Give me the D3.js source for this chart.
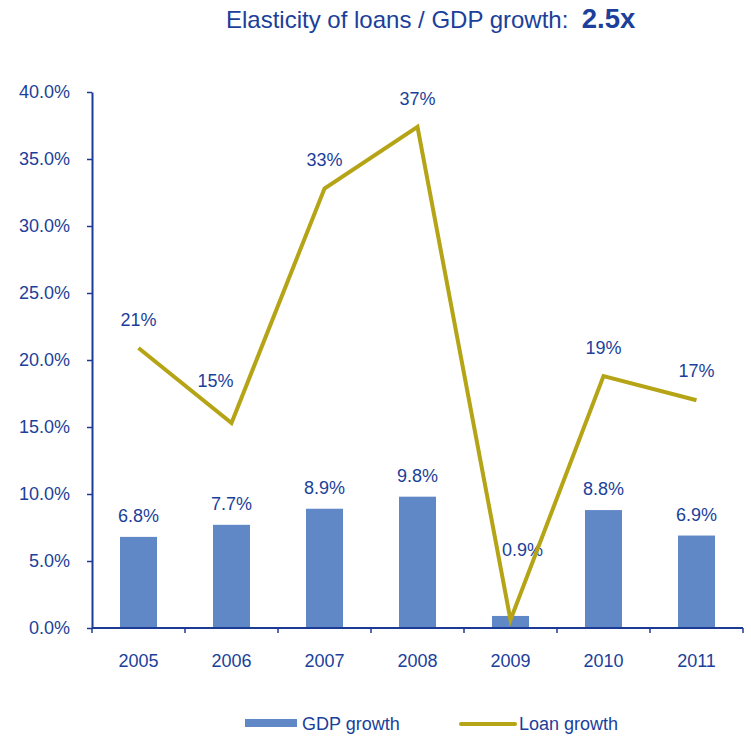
<!DOCTYPE html>
<html>
<head>
<meta charset="utf-8">
<script src="https://cdn.jsdelivr.net/npm/d3@7/dist/d3.min.js"></script>
<style>
  body { margin: 0; background: #fff; }
  svg { font-family: "Liberation Sans", Arial, sans-serif; }
</style>
</head>
<body>
<svg id="chart" width="751" height="737"></svg>
<script>
// Chart data
const years = ["2005", "2006", "2007", "2008", "2009", "2010", "2011"];
const gdpGrowth = [6.8, 7.7, 8.9, 9.8, 0.9, 8.8, 6.9];
const loanGrowth = [20.9, 15.3, 32.8, 37.4, 0.6, 18.8, 17.0];
const loanLabels = ["21%", "15%", "33%", "37%", null, "19%", "17%"];
const yTicks = [0, 5, 10, 15, 20, 25, 30, 35, 40];

const textBlue = "#1b3f9a";
const axisBlue = "#1c3b95";
const barColor = "#6088c6";
const lineColor = "#b5a416";
const fontSize = 18;

const svg = d3.select("#chart");
const plotLeft = 92, plotRight = 743, plotTop = 92, plotBottom = 628;

const xBand = d3.scaleBand().domain(years).range([plotLeft, plotRight]);
const y = d3.scaleLinear().domain([0, 40]).range([plotBottom, plotTop]);
const cx = d => xBand(d) + xBand.bandwidth() / 2;

// Title
const title = svg.append("text")
  .attr("x", 226).attr("y", 28)
  .attr("fill", textBlue);
title.append("tspan").attr("font-size", 24).text("Elasticity of loans / GDP growth:\u00a0\u00a0");
title.append("tspan").attr("font-size", 27.5).attr("font-weight", "bold").text("2.5x");

// Y axis
const yAxis = svg.append("g")
  .attr("transform", `translate(${plotLeft},0)`)
  .call(d3.axisLeft(y).tickValues(yTicks).tickFormat(d => d.toFixed(1) + "%").tickSize(5).tickSizeOuter(0));
yAxis.select(".domain").attr("stroke", axisBlue).attr("stroke-width", 2);
yAxis.selectAll(".tick line").attr("stroke", axisBlue).attr("stroke-width", 1.5);
yAxis.selectAll(".tick text").attr("fill", textBlue).attr("font-size", fontSize)
  .attr("x", -22).attr("font-family", "Liberation Sans, Arial, sans-serif");

// Bars
svg.selectAll("rect.bar").data(years).join("rect")
  .attr("class", "bar")
  .attr("x", d => cx(d) - 18.5)
  .attr("width", 37)
  .attr("y", (d, i) => y(gdpGrowth[i]))
  .attr("height", (d, i) => y(0) - y(gdpGrowth[i]))
  .attr("fill", barColor);

// X axis with boundary ticks between categories
const xAxisG = svg.append("g").attr("transform", `translate(0,${plotBottom})`);
xAxisG.append("line").attr("x1", plotLeft).attr("x2", plotRight).attr("stroke", axisBlue).attr("stroke-width", 2);
const boundaries = years.map(d => xBand(d)).concat([plotRight]);
xAxisG.selectAll("line.tk").data(boundaries).join("line")
  .attr("class", "tk")
  .attr("x1", d => d).attr("x2", d => d)
  .attr("y1", 0).attr("y2", 5)
  .attr("stroke", axisBlue).attr("stroke-width", 1.5);
xAxisG.selectAll("text").data(years).join("text")
  .attr("x", d => cx(d))
  .attr("y", 39)
  .attr("text-anchor", "middle")
  .attr("fill", textBlue).attr("font-size", fontSize)
  .text(d => d);

// Bar value labels (the 2009 label is lifted clear of the short bar)
const barLabelLift = [0, 0, 0, 0, 45, 0, 0];
const barLabelShift = [0, 0, 0, 0, 12, 0, 0];
svg.selectAll("text.barlbl").data(years).join("text")
  .attr("class", "barlbl")
  .attr("x", (d, i) => cx(d) + barLabelShift[i])
  .attr("y", (d, i) => y(gdpGrowth[i]) - 15 - barLabelLift[i])
  .attr("text-anchor", "middle")
  .attr("fill", textBlue).attr("font-size", fontSize)
  .text((d, i) => gdpGrowth[i].toFixed(1) + "%");

// Loan growth line
const line = d3.line()
  .x((d, i) => cx(years[i]))
  .y(d => y(d));
svg.append("path")
  .datum(loanGrowth)
  .attr("d", line)
  .attr("fill", "none")
  .attr("stroke", lineColor)
  .attr("stroke-width", 4)
  .attr("stroke-linejoin", "miter");

// Loan growth labels
const loanLabelLift = [22, 36, 22, 22, 0, 22, 23];
const loanLabelShift = [0, -16, 0, 0, 0, 0, 0];
svg.selectAll("text.loanlbl").data(years).join("text")
  .attr("class", "loanlbl")
  .attr("x", (d, i) => cx(d) + loanLabelShift[i])
  .attr("y", (d, i) => y(loanGrowth[i]) - loanLabelLift[i])
  .attr("text-anchor", "middle")
  .attr("fill", textBlue).attr("font-size", fontSize)
  .text((d, i) => loanLabels[i] || "");

// Legend
const legend = svg.append("g");
legend.append("rect").attr("x", 245).attr("y", 719).attr("width", 52).attr("height", 8).attr("fill", barColor);
legend.append("text").attr("x", 302).attr("y", 730).attr("fill", textBlue).attr("font-size", fontSize).text("GDP growth");
legend.append("line").attr("x1", 461).attr("x2", 515).attr("y1", 724).attr("y2", 724)
  .attr("stroke", lineColor).attr("stroke-width", 4).attr("stroke-linecap", "round");
legend.append("text").attr("x", 519).attr("y", 730).attr("fill", textBlue).attr("font-size", fontSize).text("Loan growth");
</script>
</body>
</html>
